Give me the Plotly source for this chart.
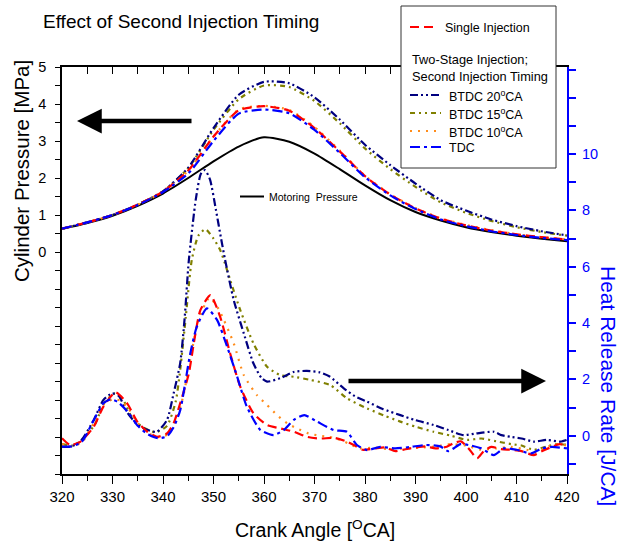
import plotly.graph_objects as go

# ---------------- data ----------------
ca_p = [320, 325, 330, 335, 340, 345, 350, 355, 360, 365, 370, 375, 380, 385, 390, 395, 400, 405, 410, 415, 420]
p_motoring = [0.62, 0.78, 0.98, 1.25, 1.58, 2.00, 2.45, 2.85, 3.10, 2.98, 2.66, 2.24, 1.80, 1.40, 1.08, 0.85, 0.67, 0.54, 0.44, 0.36, 0.29]
p_single = [0.63, 0.80, 1.00, 1.28, 1.63, 2.20, 3.12, 3.83, 3.94, 3.82, 3.35, 2.72, 2.05, 1.55, 1.18, 0.90, 0.72, 0.58, 0.48, 0.40, 0.34]
p_btdc20 = [0.63, 0.80, 1.00, 1.28, 1.64, 2.28, 3.35, 4.25, 4.60, 4.56, 4.18, 3.58, 2.90, 2.35, 1.85, 1.40, 1.12, 0.88, 0.70, 0.56, 0.45]
p_btdc15 = [0.63, 0.80, 1.00, 1.28, 1.64, 2.27, 3.30, 4.13, 4.50, 4.46, 4.08, 3.48, 2.80, 2.24, 1.76, 1.34, 1.06, 0.84, 0.67, 0.54, 0.44]
p_btdc10 = [0.63, 0.80, 1.00, 1.28, 1.63, 2.20, 3.12, 3.85, 3.95, 3.84, 3.38, 2.74, 2.06, 1.56, 1.19, 0.91, 0.73, 0.59, 0.48, 0.40, 0.34]
p_tdc = [0.63, 0.80, 1.00, 1.27, 1.62, 2.12, 3.00, 3.74, 3.85, 3.75, 3.30, 2.68, 2.02, 1.53, 1.16, 0.88, 0.70, 0.56, 0.46, 0.38, 0.32]

ca_single = [320, 321.6, 323.6, 326.3, 328.2, 330.6, 332.9, 334.9, 336.9, 338.8, 340.8, 342.1, 343.4, 345.1, 346.1, 347.4, 349.4, 351.3, 353.3, 355.3, 357.9, 360.6, 363.2, 365.9, 368.5, 371, 374, 376.4, 378, 379.5, 382, 384, 386, 388, 390, 392, 394, 396.2, 397.5, 399, 400.5, 402.2, 403.5, 405, 407, 409, 411, 413.4, 415, 416.7, 418.5, 420]
hrr_single = [-0.09, -0.33, -0.22, 0.32, 1.03, 1.54, 1.15, 0.5, 0.14, -0.04, 0.08, 0.44, 1.15, 2.2, 3.28, 4.46, 4.99, 4.23, 2.92, 1.74, 0.8, 0.38, 0.26, 0.14, -0.04, -0.1, -0.08, -0.21, -0.35, -0.5, -0.45, -0.42, -0.55, -0.48, -0.42, -0.38, -0.45, -0.39, -0.27, -0.2, -0.45, -0.8, -0.55, -0.4, -0.48, -0.5, -0.55, -0.69, -0.55, -0.42, -0.3, -0.35]

ca_btdc20 = [320, 321.6, 323.6, 326.3, 328.2, 329.9, 331.2, 333, 335, 337, 338.8, 340.8, 342.1, 343.4, 344.3, 345.1, 346.5, 347.5, 348.3, 349.3, 350.5, 351.5, 352.3, 354, 356, 357.9, 359.5, 360.6, 363.2, 366, 368.5, 371, 373, 375.8, 378, 380.4, 383.5, 387, 390, 393.6, 396.5, 399.5, 402, 405.5, 407, 408.8, 411, 413.4, 416, 418.7, 420]
hrr_btdc20 = [-0.39, -0.39, -0.21, 0.56, 1.27, 1.5, 1.42, 0.8, 0.38, 0.2, 0.14, 0.56, 1.5, 2.57, 4.2, 6.2, 8.4, 9.3, 9.43, 9.1, 8.0, 7.0, 6.24, 4.82, 3.63, 2.57, 2.05, 1.92, 2.04, 2.27, 2.3, 2.25, 2.1, 1.68, 1.4, 1.21, 0.95, 0.73, 0.55, 0.38, 0.2, 0.02, 0.08, 0.14, 0.02, -0.04, -0.1, -0.21, -0.15, -0.21, -0.15]

ca_btdc15 = [320, 322, 324, 326.5, 328.5, 330.5, 332, 334, 336, 338.5, 340.8, 342.5, 343.4, 344.5, 345.7, 347, 348.4, 350, 351.3, 352.3, 353.3, 355.3, 357.9, 360.6, 363.2, 366, 369.2, 373.1, 376.4, 380.4, 384, 387, 390, 393.6, 397, 400.2, 403, 406, 409, 411, 413.4, 416, 418, 420]
hrr_btdc15 = [-0.3, -0.35, -0.15, 0.4, 1.2, 1.5, 1.3, 0.6, 0.3, 0.12, 0.35, 1.2, 2.33, 4.2, 6.24, 7.1, 7.33, 7.0, 6.6, 6.1, 5.53, 4.46, 3.28, 2.45, 2.15, 2.09, 1.98, 1.8, 1.33, 0.97, 0.7, 0.5, 0.32, 0.14, 0.0, -0.15, -0.1, -0.2, -0.3, -0.35, -0.5, -0.38, -0.3, -0.32]

ca_btdc10 = [320, 322, 324, 326.3, 328.2, 330, 331.5, 333, 335, 337, 339, 341, 342.5, 344, 345.5, 347, 349.2, 351, 354, 356, 358.6, 360.6, 362.6, 364.6, 366.5, 368.8, 371, 373, 375.1, 377, 379, 382, 385, 388, 391, 394, 397, 400, 403, 406, 409, 412, 414, 416, 418, 420]
hrr_btdc10 = [-0.3, -0.38, -0.22, 0.45, 1.1, 1.29, 1.25, 1.0, 0.45, 0.1, -0.05, 0.05, 0.5, 1.4, 2.8, 4.1, 4.9, 4.5, 3.28, 2.15, 1.44, 1.09, 0.73, 0.44, 0.26, 0.08, 0.0, -0.05, -0.15, -0.3, -0.45, -0.42, -0.48, -0.45, -0.42, -0.38, -0.3, -0.35, -0.5, -0.45, -0.4, -0.5, -0.6, -0.4, -0.3, -0.35]

ca_tdc = [320, 322, 324, 326.3, 328.2, 329.6, 331, 333, 335, 337, 339, 340.8, 342.1, 343.4, 345.4, 346.7, 348.7, 350.7, 352.7, 354.7, 356.6, 359.3, 361.9, 363.9, 365.9, 368, 370.5, 373.8, 376.4, 378.4, 380.4, 383, 386, 389, 392, 394.9, 396.5, 398.9, 401, 403, 405.5, 407.5, 410, 412.9, 415, 417, 420]
hrr_tdc = [-0.39, -0.38, -0.2, 0.56, 1.15, 1.29, 1.2, 0.85, 0.35, 0.05, -0.09, -0.02, 0.3, 0.9, 2.92, 3.87, 4.52, 4.11, 3.16, 2.09, 1.03, 0.2, 0.02, 0.2, 0.56, 0.73, 0.5, 0.2, 0.14, -0.33, -0.51, -0.4, -0.45, -0.4, -0.33, -0.38, -0.55, -0.3, -0.35, -0.45, -0.69, -0.45, -0.5, -0.63, -0.45, -0.4, -0.45]

left_ticks = [-6, -5.5, -5, -4.5, -4, -3.5, -3, -2.5, -2, -1.5, -1, -0.5, 0, 0.5, 1, 1.5, 2, 2.5, 3, 3.5, 4, 4.5, 5]
left_labels = ["" if (v < 0 or v != int(v)) else str(int(v)) for v in left_ticks]
right_ticks = list(range(-1, 14))
right_labels = [str(v) if (v >= 0 and v <= 10 and v % 2 == 0) else "" for v in right_ticks]

# ---------------- styles ----------------
FONT = "Liberation Sans, Arial, sans-serif"
C_RED, C_NAVY, C_OLIVE, C_ORANGE, C_BLUE = "#ff0000", "#000080", "#808000", "#ff8c1a", "#0000ff"
D_RED = "9px,5px"
D_NAVY = "8px,3px,2px,3px,2px,3px"
D_OLIVE = "5px,4px,2px,4px,2px,4px"
D_ORANGE = "2px,6px"
D_BLUE = "10px,4px,3px,4px"
LW = 2.2

fig = go.Figure()

def add(x, y, color, dash, yaxis, width=LW):
    fig.add_trace(go.Scatter(x=x, y=y, mode="lines", yaxis=yaxis, showlegend=False,
                             line=dict(color=color, dash=dash, width=width, shape="spline", smoothing=0.6),
                             hoverinfo="skip"))

# pressure (left axis)
add(ca_p, p_motoring, "#000000", "solid", "y", 2)
add(ca_p, p_btdc15, C_OLIVE, D_OLIVE, "y")
add(ca_p, p_btdc20, C_NAVY, D_NAVY, "y")
add(ca_p, p_btdc10, C_ORANGE, D_ORANGE, "y")
add(ca_p, p_single, C_RED, D_RED, "y")
add(ca_p, p_tdc, C_BLUE, D_BLUE, "y")
# heat release (right axis)
add(ca_btdc15, hrr_btdc15, C_OLIVE, D_OLIVE, "y2")
add(ca_btdc20, hrr_btdc20, C_NAVY, D_NAVY, "y2")
add(ca_btdc10, hrr_btdc10, C_ORANGE, D_ORANGE, "y2")
add(ca_single, hrr_single, C_RED, D_RED, "y2")
add(ca_tdc, hrr_tdc, C_BLUE, D_BLUE, "y2")
# invisible trace to register top axis
fig.add_trace(go.Scatter(x=[320], y=[0], xaxis="x2", yaxis="y", mode="markers",
                         marker=dict(opacity=0), showlegend=False, hoverinfo="skip"))

W, H = 621, 543
L, R, T, B = 62, 54, 67, 69
pw, ph = W - L - R, H - T - B

def px(xp):
    return (xp - L) / pw

def py(yp):
    return (H - B - yp) / ph

ann = []
shapes = []

# title & axis titles
ann.append(dict(text="Effect of Second Injection Timing", x=px(41), y=py(22), xref="paper", yref="paper",
                xanchor="left", yanchor="middle", showarrow=False, font=dict(size=19, color="black", family=FONT)))
ann.append(dict(text="Crank Angle [<sup>O</sup>CA]", x=0.5, y=py(529), xref="paper", yref="paper",
                xanchor="center", yanchor="middle", showarrow=False, font=dict(size=19.5, color="black", family=FONT)))
ann.append(dict(text="Cylinder Pressure [MPa]", x=px(21), y=py(171), xref="paper", yref="paper", textangle=-90,
                xanchor="center", yanchor="middle", showarrow=False, font=dict(size=20.5, color="black", family=FONT)))
ann.append(dict(text="Heat Release Rate [J/CA]", x=px(609), y=py(386), xref="paper", yref="paper", textangle=90,
                xanchor="center", yanchor="middle", showarrow=False, font=dict(size=21, color=C_BLUE, family=FONT)))

# arrows
ann.append(dict(x=px(77), y=py(121), xref="paper", yref="paper", ax=116, ay=0, text="", showarrow=True,
                arrowhead=2, arrowsize=1.1, arrowwidth=4.5, arrowcolor="black", standoff=0))
ann.append(dict(x=px(546), y=py(381), xref="paper", yref="paper", ax=-199, ay=0, text="", showarrow=True,
                arrowhead=2, arrowsize=1.1, arrowwidth=4.5, arrowcolor="black", standoff=0))

# motoring label
shapes.append(dict(type="line", xref="paper", yref="paper", x0=px(240), x1=px(264), y0=py(196.5), y1=py(196.5),
                   line=dict(color="black", width=2), layer="above"))
ann.append(dict(text="Motoring  Pressure", x=px(267), y=py(197), xref="paper", yref="paper", xanchor="left",
                yanchor="middle", showarrow=False, font=dict(size=10.5, color="black", family=FONT)))

# legend box
shapes.append(dict(type="rect", xref="paper", yref="paper", x0=px(401), x1=px(556), y0=py(168), y1=py(6),
                   line=dict(color="#333333", width=1), fillcolor="white", layer="above"))
leg_items = [("Single Injection", C_RED, D_RED, 27, 443),
             ("BTDC 20<sup>o</sup>CA", C_NAVY, D_NAVY, 95, 447),
             ("BTDC 15<sup>o</sup>CA", C_OLIVE, D_OLIVE, 113, 447),
             ("BTDC 10<sup>o</sup>CA", C_ORANGE, D_ORANGE, 131, 447),
             ("TDC", C_BLUE, D_BLUE, 147, 447)]
for name, col, dsh, yy, xt in leg_items:
    x1 = 437 if name.startswith("Single") else 441
    shapes.append(dict(type="line", xref="paper", yref="paper", x0=px(410), x1=px(x1), y0=py(yy), y1=py(yy),
                       line=dict(color=col, dash=dsh, width=2), layer="above"))
    ann.append(dict(text=name, x=px(xt), y=py(yy + 1), xref="paper", yref="paper", xanchor="left", yanchor="middle",
                    showarrow=False, font=dict(size=12.5, color="black", family=FONT)))
ann.append(dict(text="Two-Stage Injection;<br>Second Injection Timing", x=px(410), y=py(68), xref="paper",
                yref="paper", xanchor="left", yanchor="middle", align="left", showarrow=False,
                font=dict(size=12.8, color="black", family=FONT)))

fig.update_layout(
    width=W, height=H, margin=dict(l=L, r=R, t=T, b=B),
    paper_bgcolor="white", plot_bgcolor="white",
    font=dict(family=FONT, size=14, color="black"),
    showlegend=False,
    xaxis=dict(range=[320, 420], tick0=320, dtick=10, ticks="outside", ticklen=8, tickwidth=1.3,
               tickcolor="black", showline=True, linecolor="black", linewidth=1.5, showgrid=False,
               zeroline=False, tickfont=dict(size=15, family=FONT, color="black"),
               minor=dict(dtick=5, ticks="outside", ticklen=5, tickwidth=1.3, tickcolor="black", showgrid=False)),
    xaxis2=dict(range=[320, 420], overlaying="x", side="top", anchor="y", tick0=320, dtick=5, ticks="inside",
                ticklen=7, tickwidth=1.3, tickcolor="black", showticklabels=False, showline=True,
                linecolor="black", linewidth=1.5, showgrid=False, zeroline=False),
    yaxis=dict(range=[-6, 5], tickvals=left_ticks, ticktext=left_labels, ticks="outside", ticklen=5,
               tickwidth=1.3, tickcolor="black", showline=True, linecolor="black", linewidth=1.5,
               showgrid=False, zeroline=False, ticklabelstandoff=6,
               tickfont=dict(size=14.5, family=FONT, color="black")),
    yaxis2=dict(range=[-1.36, 13.09], overlaying="y", side="right", anchor="x", tickvals=right_ticks,
                ticktext=right_labels, ticks="outside", ticklen=7, tickwidth=1.5, tickcolor=C_BLUE,
                showline=True, linecolor=C_BLUE, linewidth=2, showgrid=False, zeroline=False,
                ticklabelstandoff=3, tickfont=dict(size=14.5, family=FONT, color=C_BLUE)),
    annotations=ann, shapes=shapes,
)

fig.write_html("out.html")
